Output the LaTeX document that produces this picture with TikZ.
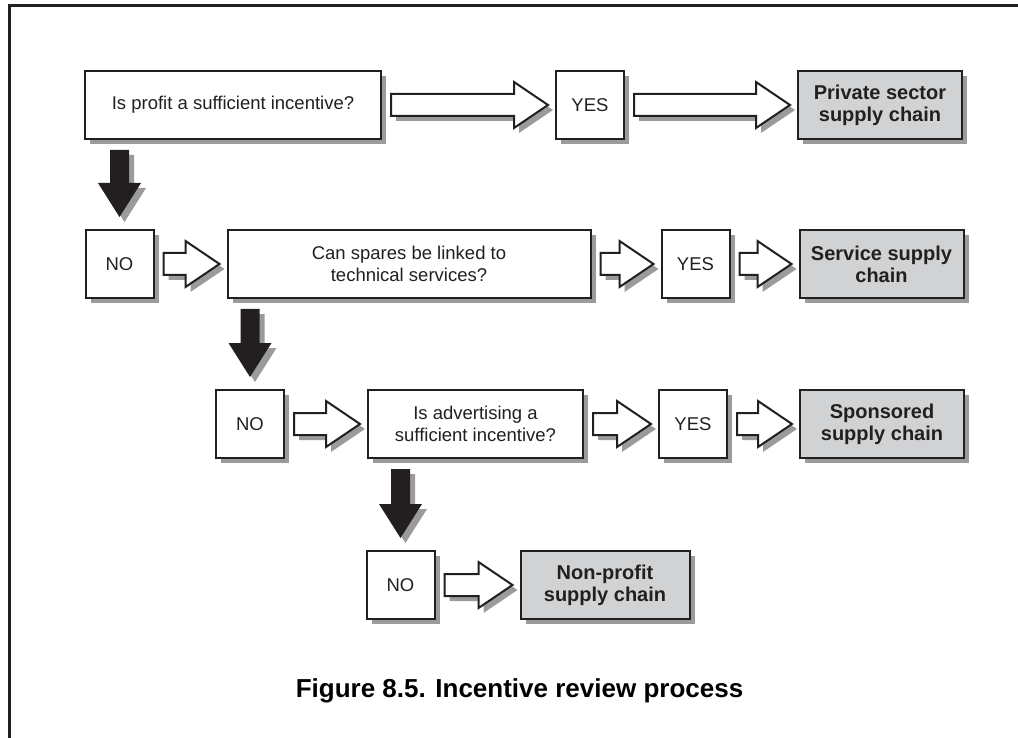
\documentclass[tikz,border=0pt]{standalone}
\usepackage{xcolor}
\usepackage{fontspec}
\setmainfont{Liberation Sans}
\usepackage{tikz}
\usetikzlibrary{positioning}
\usetikzlibrary{shapes,calc,shadows,arrows.meta}

\definecolor{ink}{RGB}{35,31,32}
\definecolor{boxgray}{RGB}{209,210,212}
\definecolor{shadowgray}{RGB}{155,155,157}

\newcommand{\hollowarrow}[2]{%
  \draw[hollow] ($(#1.east)+(9,-11)$) -- ($(#2.west)+(-41,-11)$) -- ($(#2.west)+(-41,-23)$)
    -- ($(#2.west)+(-7,0)$) -- ($(#2.west)+(-41,23)$) -- ($(#2.west)+(-41,11)$)
    -- ($(#1.east)+(9,11)$) -- cycle;}
\newcommand{\blackarrow}[2]{%
  \fill[black arrow] ($(#2.north |- #1.south)+(-9.5,10)$) -- ($(#2.north)+(-9.5,-46)$) -- ($(#2.north)+(-21.5,-46)$)
    -- ($(#2.north)+(0,-12)$) -- ($(#2.north)+(21.5,-46)$) -- ($(#2.north)+(9.5,-46)$)
    -- ($(#2.north |- #1.south)+(9.5,10)$) -- cycle;}

\begin{document}
\begin{tikzpicture}[x=1pt,y=-1pt,
  shadowed/.style={drop shadow={shadow xshift=5pt,shadow yshift=-5pt,fill=shadowgray,opacity=1}},
  question node/.style={draw=ink,line width=2pt,fill=white,text=ink,inner sep=0pt,minimum height=68pt,
    align=center,font=\fontsize{18.5}{22}\selectfont,shadowed},
  answer node/.style={question node,minimum width=68pt},
  result node/.style={question node,fill=boxgray,minimum width=164pt,font=\fontsize{20}{22}\selectfont\bfseries},
  hollow/.style={draw=ink,line width=2pt,fill=white,line join=miter,shadowed},
  black arrow/.style={fill=ink,shadowed}]
  \useasboundingbox (0,0) rectangle (1018,738);
  \draw[line width=3pt,ink] (9,738) -- (9,6) -- (1018,6);

  \node[question node,minimum width=296pt] (q1) at (233,105) {Is profit a sufficient incentive?};
  \node[answer node] (yes1) [right=173pt of q1] {YES};
  \node[result node] (private) [right=172pt of yes1] {Private sector\\supply chain};

  \node[answer node] (no1) at (119.5,264) {NO};
  \node[question node,minimum width=363pt] (q2) [right=72pt of no1] {Can spares be linked to\\technical services?};
  \node[answer node] (yes2) [right=69pt of q2] {YES};
  \node[result node] (service) [right=68pt of yes2] {Service supply\\chain};

  \node[answer node] (no2) at (250,424) {NO};
  \node[question node,minimum width=215pt] (q3) [right=82pt of no2] {Is advertising a\\sufficient incentive?};
  \node[answer node] (yes3) [right=74pt of q3] {YES};
  \node[result node] (sponsored) [right=71pt of yes3] {Sponsored\\supply chain};

  \node[answer node] (no3) at (400.5,585) {NO};
  \node[result node,minimum width=169pt] (nonprofit) [right=84pt of no3] {Non-profit\\supply chain};

  \node[anchor=base,text=black,font=\fontsize{26}{30}\selectfont\bfseries] (caption) at (519.5,697) {Figure 8.5. Incentive review process};

  \hollowarrow{q1}{yes1}
  \hollowarrow{yes1}{private}
  \hollowarrow{no1}{q2}
  \hollowarrow{q2}{yes2}
  \hollowarrow{yes2}{service}
  \hollowarrow{no2}{q3}
  \hollowarrow{q3}{yes3}
  \hollowarrow{yes3}{sponsored}
  \hollowarrow{no3}{nonprofit}
  \blackarrow{q1}{no1}
  \blackarrow{q2}{no2}
  \blackarrow{q3}{no3}
\end{tikzpicture}
\end{document}
